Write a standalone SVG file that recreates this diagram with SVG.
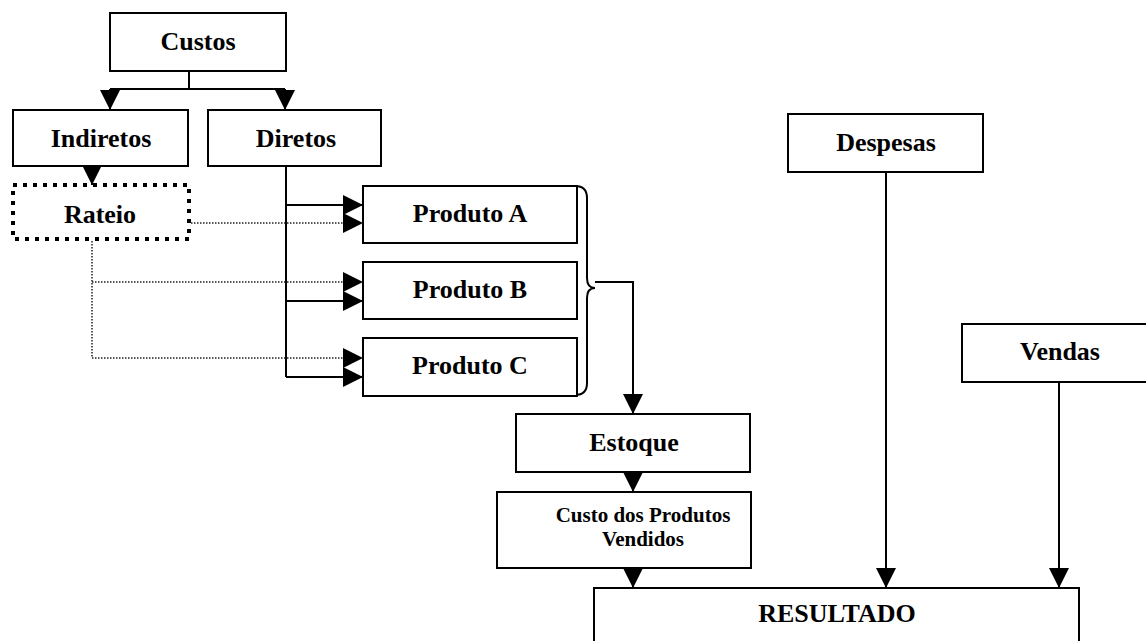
<svg xmlns="http://www.w3.org/2000/svg" width="1146" height="641" viewBox="0 0 1146 641">
<style>
.box{fill:#fff;stroke:#000;stroke-width:2}
.dbox{fill:#fff;stroke:#000;stroke-width:4;stroke-dasharray:4 6}
.t{font-family:"Liberation Serif","Times New Roman",serif;font-weight:bold;font-size:26px;fill:#000;text-anchor:middle}
.ts{font-size:21px}
.ln{fill:none;stroke:#000;stroke-width:2}
.dot{fill:none;stroke:#222;stroke-width:1.5;stroke-dasharray:1.5 1.5}
</style>
<defs>
<marker id="ah" viewBox="0 0 20 20" markerWidth="20" markerHeight="20" refX="20" refY="10" orient="auto" markerUnits="userSpaceOnUse">
<path d="M0,0 L20,10 L0,20 z" fill="#000"/>
</marker>
</defs>
<rect width="1146" height="641" fill="#fff"/>
<g id="connectors">
<path class="ln" d="M189,71 V89 M110,89 H285"/>
<path class="ln" d="M110,89 V110" marker-end="url(#ah)"/>
<path class="ln" d="M285,89 V110" marker-end="url(#ah)"/>
<path class="ln" d="M92,166 V185" marker-end="url(#ah)"/>
<path class="ln" d="M286,166 V377"/>
<path class="ln" d="M286,205 H363" marker-end="url(#ah)"/>
<path class="ln" d="M286,301 H363" marker-end="url(#ah)"/>
<path class="ln" d="M286,377 H363" marker-end="url(#ah)"/>
<path class="dot" d="M191,223 H363" marker-end="url(#ah)"/>
<path class="dot" d="M92,241 V358"/>
<path class="dot" d="M92,282 H363" marker-end="url(#ah)"/>
<path class="dot" d="M92,358 H363" marker-end="url(#ah)"/>
<path class="ln" d="M575,186 Q587,186 587,198 V278 Q587,288 595,288 Q587,288 587,298 V383 Q587,395 575,395"/>
<path class="ln" d="M595,282 H633 V414" marker-end="url(#ah)"/>
<path class="ln" d="M633,472 V492" marker-end="url(#ah)"/>
<path class="ln" d="M633,568 V588" marker-end="url(#ah)"/>
<path class="ln" d="M886,172 V588" marker-end="url(#ah)"/>
<path class="ln" d="M1059,382 V588" marker-end="url(#ah)"/>
</g>
<g id="custos"><rect class="box" x="110" y="13" width="176" height="58"/><text class="t" x="198" y="50">Custos</text></g>
<g id="indiretos"><rect class="box" x="13" y="110" width="175" height="56"/><text class="t" x="101" y="147">Indiretos</text></g>
<g id="diretos"><rect class="box" x="208" y="110" width="173" height="56"/><text class="t" x="296" y="147">Diretos</text></g>
<g id="rateio"><rect class="dbox" x="13" y="185" width="176" height="54"/><text class="t" x="100" y="223">Rateio</text></g>
<g id="produtoA"><rect class="box" x="363" y="186" width="214" height="57"/><text class="t" x="470" y="222">Produto A</text></g>
<g id="produtoB"><rect class="box" x="363" y="262" width="214" height="57"/><text class="t" x="470" y="298">Produto B</text></g>
<g id="produtoC"><rect class="box" x="363" y="338" width="214" height="58"/><text class="t" x="470" y="374">Produto C</text></g>
<g id="estoque"><rect class="box" x="516" y="414" width="234" height="58"/><text class="t" x="634" y="451">Estoque</text></g>
<g id="cpv"><rect class="box" x="497" y="492" width="254" height="76"/><text class="t ts" x="643" y="522">Custo dos Produtos</text><text class="t ts" x="643" y="546">Vendidos</text></g>
<g id="despesas"><rect class="box" x="788" y="114" width="195" height="58"/><text class="t" x="886" y="151">Despesas</text></g>
<g id="vendas"><rect class="box" x="962" y="324" width="200" height="58"/><text class="t" x="1060" y="360">Vendas</text></g>
<g id="resultado"><rect class="box" x="594" y="588" width="485" height="70"/><text class="t" x="837" y="622">RESULTADO</text></g>
</svg>
